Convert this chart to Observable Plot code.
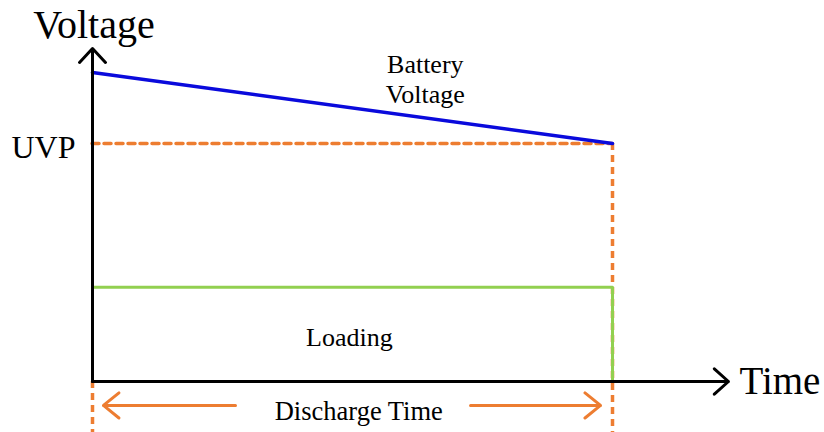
<!DOCTYPE html>
<html>
<head>
<meta charset="utf-8">
<script src="https://cdn.jsdelivr.net/npm/d3@7"></script>
<script src="https://cdn.jsdelivr.net/npm/@observablehq/plot@0.6"></script>
<style>
  html, body { margin: 0; padding: 0; background: #fff; }
  #chart svg { display: block; }
  #chart svg text, #chart svg tspan {
    font-family: "Liberation Serif", "Times New Roman", "DejaVu Serif", serif !important;
  }
</style>
</head>
<body>
<div id="chart"></div>
<script>
// ---- data (conceptual discharge diagram) ----
const times = [0, 10];                 // discharge start → end (time units)
const batteryVoltage = [4.0, 3.08];    // battery voltage at start / end
const uvpLevel = 3.08;                 // under-voltage protection level
const loadingLevel = 1.22;             // load level
const axisEndTime = 12.23;             // x-axis arrow tip
const axisEndVoltage = 4.31;           // y-axis arrow tip
const arrowRow = -0.31;                // "Discharge Time" arrow row (below axis)
const bottomEdge = -0.66;              // bottom of dashed guides
const labelTexts = ["Voltage", "Time", "UVP", "Battery\nVoltage", "Loading", "Discharge Time"];

// ---- derived tables ----
const battery = times.map((t, i) => ({t, v: batteryVoltage[i]}));
const loading = [
  {t: times[0], v: loadingLevel},
  {t: times[1], v: loadingLevel},
  {t: times[1], v: 0}
];
const orange = "#ED7D31";
const font = "Liberation Serif";

const chart = Plot.plot({
  width: 824,
  height: 432,
  margin: 0,
  style: {background: "#fff"},
  x: {type: "linear", domain: [times[0], times[1]], range: [92, 612], axis: null},
  y: {type: "linear", domain: [0, batteryVoltage[0]], range: [381, 72], axis: null},
  marks: [
    // orange dashed guides
    Plot.ruleY([uvpLevel], {x1: times[0], x2: times[1], stroke: orange, strokeWidth: 3.5, strokeDasharray: "7,5", strokeLinecap: "round"}),
    Plot.ruleX([times[1]], {y1: uvpLevel, y2: bottomEdge, stroke: orange, strokeWidth: 3.5, strokeDasharray: "7,5"}),
    Plot.ruleX([times[0]], {y1: 0, y2: bottomEdge, stroke: orange, strokeWidth: 3.5, strokeDasharray: "7,5"}),
    // loading (green)
    Plot.line(loading, {x: "t", y: "v", stroke: "#92D050", strokeWidth: 3, curve: "linear"}),
    // battery voltage (blue)
    Plot.line(battery, {x: "t", y: "v", stroke: "#0A0ADC", strokeWidth: 3.5}),
    // axes with arrowheads
    Plot.arrow([{x1: 0, y1: 0, x2: 0, y2: axisEndVoltage}], {x1: "x1", y1: "y1", x2: "x2", y2: "y2", stroke: "#000", strokeWidth: 3, headLength: 9.5, headAngle: 86}),
    Plot.arrow([{x1: 0, y1: 0, x2: axisEndTime, y2: 0}], {x1: "x1", y1: "y1", x2: "x2", y2: "y2", stroke: "#000", strokeWidth: 3, headLength: 9.5, headAngle: 84}),
    // discharge-time arrows
    Plot.arrow([
      {x1: 2.75, x2: 0.21, y: arrowRow},
      {x1: 7.27, x2: 9.77, y: arrowRow}
    ], {x1: "x1", x2: "x2", y1: "y", y2: "y", stroke: orange, strokeWidth: 3, headLength: 10, headAngle: 78}),
    // labels
    Plot.text([labelTexts[0]], {x: 0, y: axisEndVoltage, dx: 1.5, dy: -11, lineAnchor: "bottom", textAnchor: "middle", fontSize: 40, fontFamily: font, fill: "#000"}),
    Plot.text([labelTexts[1]], {x: axisEndTime, y: 0, dx: 11, dy: 12, lineAnchor: "bottom", textAnchor: "start", fontSize: 39, fontFamily: font, fill: "#000"}),
    Plot.text([labelTexts[2]], {x: 0, y: uvpLevel, dx: -17, dy: 14, lineAnchor: "bottom", textAnchor: "end", fontSize: 32, fontFamily: font, fill: "#000"}),
    Plot.text([labelTexts[3]], {x: 6.4, y: 3.6, lineAnchor: "bottom", textAnchor: "middle", fontSize: 26, lineHeight: 1.154, fontFamily: font, fill: "#000"}),
    Plot.text([labelTexts[4]], {x: 4.94, y: loadingLevel, dy: 59, lineAnchor: "bottom", textAnchor: "middle", fontSize: 26, fontFamily: font, fill: "#000"}),
    Plot.text([labelTexts[5]], {x: 5.12, y: arrowRow, dy: 15, lineAnchor: "bottom", textAnchor: "middle", fontSize: 26.5, fontFamily: font, fill: "#000"})
  ]
});
document.getElementById("chart").appendChild(chart);
</script>
</body>
</html>
